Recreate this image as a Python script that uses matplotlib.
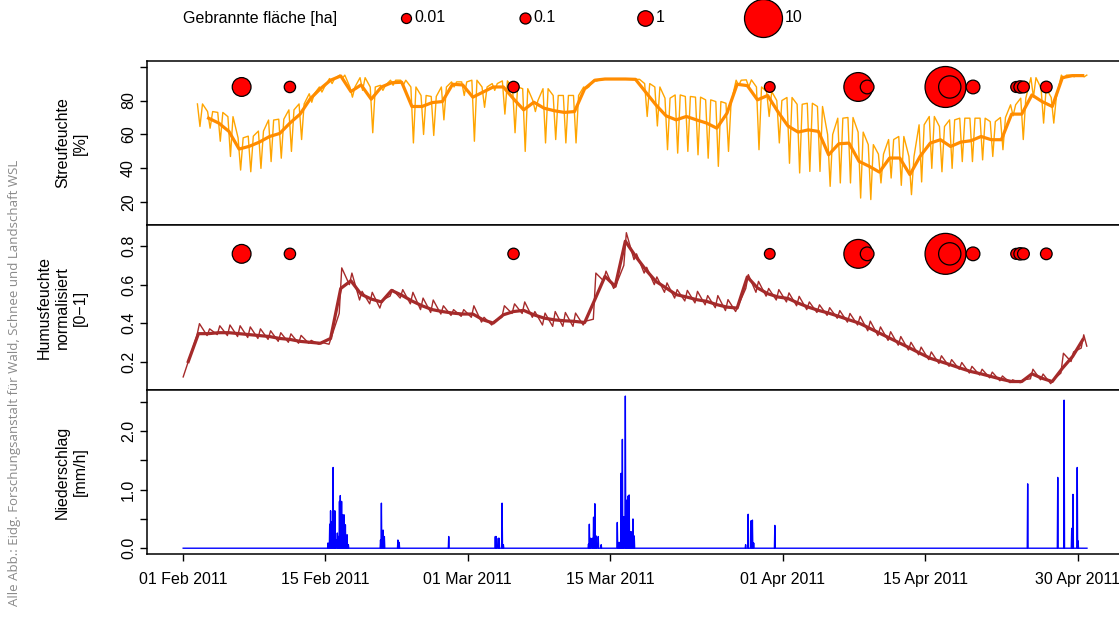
import numpy as np
import pandas as pd
import matplotlib
matplotlib.use("Agg")
from matplotlib import pyplot as plt
import matplotlib.dates as mdates

plt.rcParams['font.family'] = ['Liberation Sans', 'DejaVu Sans']

# Startdatum der Messreihe
start = "2011-02-01"

# Streufeuchte [%] - Tagesmittel (dicke Linie), 3. Feb .. 30. Apr
litter_mean = [69.6, 66.7, 61.8, 51.4, 53, 55.5, 58.8, 60.6, 66.7, 72,
               81, 87, 92, 94.5, 85.3, 89.2, 80.8, 88, 90.5, 90.8,
               76.5, 76.5, 78.8, 79.4, 89.6, 89.2, 82, 85, 88, 88,
               81, 74.5, 79, 75.5, 74, 73, 73.5, 87, 92, 92.7,
               92.7, 92.7, 92.5, 85, 77.5, 71, 68.6, 70.6, 68.6, 66.7,
               63.7, 72.5, 89.6, 88.8, 80.4, 83, 73.5, 65, 61.4, 62.7,
               61.8, 48, 54.5, 54.9, 44.1, 41.2, 37.8, 46.1, 46.1, 36.3,
               47.1, 54.9, 56.9, 52.9, 55.5, 56.3, 58.8, 56.9, 56.9, 72,
               72, 83.3, 79.4, 76.5, 93.5, 94.7, 94.7]

# Streufeuchte [%] - Tageshoch / Tagestief (duenne Linie), 2. Feb .. 30. Apr
litter_hi = [78, 73.5, 73, 70.5, 58, 59, 62, 68.5, 69, 74.5,
             78, 84, 88, 93, 95, 88, 93.5, 88, 89, 92,
             92, 88, 83, 82.4, 88, 91, 91, 92, 88, 90,
             91.6, 88, 87, 80, 87, 83, 83, 83, 88, 92,
             92.5, 92.5, 92.5, 92.5, 90, 88, 81.4, 83.3, 82.4, 82,
             80.4, 79.4, 78.4, 92, 92.2, 88, 85.3, 80, 81.8, 77.8,
             78.4, 76.5, 60, 69.6, 70, 61.4, 54, 48.4, 57, 58.8,
             47, 65.7, 70.6, 64.7, 68.6, 69.6, 69.6, 69.6, 67.6, 70,
             77.5, 81.4, 93.5, 87.3, 81.8, 95, 95, 95]
litter_lo = [64.7, 63.7, 56, 47, 39, 38, 40, 44, 46, 50,
             57, 79, 85, 90, 93, 82, 86, 61, 86, 89,
             89, 55, 60, 59.4, 68.6, 88, 83, 56, 76, 86,
             72, 61, 50, 73.5, 55, 57, 55, 55, 87, 91.5,
             92.5, 92.5, 92.5, 92.5, 70.6, 65, 51, 49, 50, 48,
             46, 41.2, 50, 89, 88, 51, 70.6, 55, 43, 37.3,
             38.2, 38.2, 29.4, 31.4, 31.4, 22.5, 21.6, 31.4, 34.3, 30,
             24.5, 32, 40, 38, 40, 44, 44, 45, 47, 51,
             71, 57, 82, 66.7, 66.7, 93, 94, 94]

# Humusfeuchte normalisiert - Tagesmittel, 1. Feb .. 30. Apr
hum_mean = [0.20, 0.345, 0.345, 0.35, 0.35, 0.345, 0.34, 0.335, 0.33, 0.32,
            0.315, 0.305, 0.30, 0.295, 0.32, 0.58, 0.62, 0.55, 0.525, 0.51,
            0.57, 0.545, 0.515, 0.49, 0.47, 0.46, 0.452, 0.447, 0.447, 0.417,
            0.40, 0.443, 0.46, 0.466, 0.443, 0.426, 0.417, 0.412, 0.409, 0.403,
            0.522, 0.643, 0.591, 0.826, 0.748, 0.678, 0.617, 0.583, 0.548, 0.536,
            0.522, 0.513, 0.496, 0.483, 0.478, 0.64, 0.583, 0.553, 0.536, 0.528,
            0.504, 0.483, 0.466, 0.452, 0.435, 0.417, 0.40, 0.374, 0.348, 0.322,
            0.296, 0.27, 0.243, 0.217, 0.20, 0.183, 0.165, 0.148, 0.136, 0.122,
            0.108, 0.096, 0.096, 0.136, 0.113, 0.096, 0.165, 0.226, 0.313]

# Humusfeuchte - Tagesspitze / Tagestief (duenne Linie), 2. Feb .. 30. Apr
hum_peak = [0.397, 0.37, 0.386, 0.39, 0.386, 0.38, 0.37, 0.36, 0.35, 0.344,
            0.336, 0.31, 0.30, 0.33, 0.687, 0.66, 0.565, 0.56, 0.52, 0.574,
            0.574, 0.56, 0.53, 0.52, 0.49, 0.47, 0.47, 0.49, 0.43, 0.41,
            0.49, 0.50, 0.51, 0.46, 0.452, 0.46, 0.455, 0.452, 0.41, 0.66,
            0.67, 0.60, 0.87, 0.76, 0.69, 0.64, 0.609, 0.574, 0.57, 0.565,
            0.543, 0.543, 0.522, 0.49, 0.652, 0.617, 0.58, 0.574, 0.557, 0.539,
            0.51, 0.495, 0.48, 0.465, 0.45, 0.435, 0.41, 0.38, 0.355, 0.33,
            0.30, 0.275, 0.25, 0.23, 0.21, 0.195, 0.175, 0.16, 0.145, 0.125,
            0.105, 0.105, 0.16, 0.135, 0.105, 0.243, 0.25, 0.339]
hum_low = [0.335, 0.335, 0.34, 0.335, 0.33, 0.325, 0.32, 0.315, 0.305, 0.30,
           0.295, 0.295, 0.29, 0.29, 0.45, 0.60, 0.52, 0.50, 0.478, 0.54,
           0.53, 0.50, 0.47, 0.455, 0.447, 0.44, 0.435, 0.43, 0.405, 0.39,
           0.43, 0.45, 0.45, 0.43, 0.39, 0.383, 0.383, 0.383, 0.39, 0.42,
           0.62, 0.58, 0.70, 0.73, 0.66, 0.60, 0.56, 0.53, 0.515, 0.505,
           0.495, 0.48, 0.465, 0.46, 0.58, 0.56, 0.54, 0.52, 0.51, 0.49,
           0.47, 0.455, 0.44, 0.425, 0.405, 0.39, 0.36, 0.335, 0.31, 0.285,
           0.26, 0.235, 0.21, 0.19, 0.175, 0.16, 0.14, 0.13, 0.115, 0.10,
           0.09, 0.09, 0.11, 0.105, 0.085, 0.14, 0.20, 0.27]
hum_first = 0.12
hum_last = 0.28

# Niederschlag [mm/h], nur Stunden mit Regen
rain_time = ["2011-02-15 06:00", "2011-02-15 10:00", "2011-02-15 12:00", "2011-02-15 14:00",
             "2011-02-15 18:00", "2011-02-15 22:00", "2011-02-16 00:00", "2011-02-16 04:00",
             "2011-02-16 07:00", "2011-02-16 09:00", "2011-02-16 11:00", "2011-02-16 14:00",
             "2011-02-16 17:00", "2011-02-16 20:00", "2011-02-16 23:00", "2011-02-17 03:00",
             "2011-02-17 06:00", "2011-02-20 10:00", "2011-02-20 12:00", "2011-02-20 16:00",
             "2011-02-20 19:00", "2011-02-22 03:00", "2011-02-22 06:00", "2011-02-27 03:00",
             "2011-03-03 17:00", "2011-03-03 19:00", "2011-03-04 00:00", "2011-03-04 02:00",
             "2011-03-04 09:00", "2011-03-04 12:00", "2011-03-12 21:00", "2011-03-12 23:00",
             "2011-03-13 02:00", "2011-03-13 06:00", "2011-03-13 09:00", "2011-03-13 12:00",
             "2011-03-13 15:00", "2011-03-13 20:00", "2011-03-14 03:00", "2011-03-15 17:00",
             "2011-03-15 21:00", "2011-03-16 00:00", "2011-03-16 02:00", "2011-03-16 05:00",
             "2011-03-16 08:00", "2011-03-16 12:00", "2011-03-16 15:00", "2011-03-16 18:00",
             "2011-03-16 21:00", "2011-03-17 00:00", "2011-03-17 03:00", "2011-03-17 06:00",
             "2011-03-17 09:00", "2011-03-28 08:00", "2011-03-28 14:00", "2011-03-28 21:00",
             "2011-03-29 00:00", "2011-03-29 03:00", "2011-03-31 05:00", "2011-04-25 02:00",
             "2011-04-28 01:00", "2011-04-28 16:00", "2011-04-29 10:00", "2011-04-29 13:00",
             "2011-04-29 23:00", "2011-04-30 01:00"]
rain_mm = [0.09, 0.41, 0.64, 0.45, 1.38, 0.64, 0.15, 0.26,
           0.2, 0.8, 0.9, 0.8, 0.57, 0.57, 0.4, 0.23,
           0.06, 0.14, 0.77, 0.31, 0.2, 0.14, 0.1, 0.2,
           0.2, 0.2, 0.17, 0.17, 0.77, 0.06, 0.07, 0.41,
           0.17, 0.17, 0.53, 0.76, 0.21, 0.2, 0.06, 0.44,
           0.1, 0.1, 1.28, 1.86, 0.54, 2.6, 0.82, 0.89,
           0.91, 0.28, 0.28, 0.5, 0.21, 0.06, 0.58, 0.47,
           0.48, 0.09, 0.39, 1.1, 1.21, 2.53, 0.34, 0.92,
           1.38, 0.125]
rain_end = "2011-04-30 22:00"

# Waldbraende: Zeitpunkt und gebrannte Flaeche [ha]
fire_time = ["2011-02-06 18:00", "2011-02-11 12:00", "2011-03-05 12:00", "2011-03-30 17:00",
             "2011-04-08 10:00", "2011-04-09 07:00", "2011-04-17 00:00", "2011-04-17 10:00",
             "2011-04-19 17:00", "2011-04-23 23:00", "2011-04-24 08:00", "2011-04-24 16:00",
             "2011-04-26 22:00"]
fire_ha = [1.4, 0.12, 0.12, 0.05, 3.9, 0.4, 11.0, 2.0, 0.4, 0.1, 0.2, 0.15, 0.14]

legend_ha = [0.01, 0.1, 1, 10]
legend_labels = ["0.01", "0.1", "1", "10"]

tick_dates = ["2011-02-01", "2011-02-15", "2011-03-01", "2011-03-15",
              "2011-04-01", "2011-04-15", "2011-04-30"]
tick_labels = ["01 Feb 2011", "15 Feb 2011", "01 Mar 2011", "15 Mar 2011",
               "01 Apr 2011", "15 Apr 2011", "30 Apr 2011"]

FS = 11.5


def bubble_px(ha):
    # Kreisdurchmesser in Pixel je nach Flaeche (log-Skala)
    return np.interp(np.log10(ha), [-2, -1, 0, 1, 2], [10, 11, 15.5, 38, 109])


def px2pt2(d):
    return (np.asarray(d) * 0.72) ** 2


t0 = mdates.date2num(pd.Timestamp(start))

# Zeitachsen aufbauen
t_litter_mean = t0 + np.arange(2, 89) + 0.5
days = np.arange(1, 89)
t_litter = t0 + np.column_stack([days + 0.4, days + 0.65, days + 0.9]).ravel()
y_litter = np.column_stack([litter_hi, litter_lo, litter_hi]).ravel()

t_hum_mean = t0 + np.arange(0, 89) + 0.5
t_hum = t0 + np.concatenate([[0], np.column_stack([days + 0.35, days + 0.6]).ravel(), [88.9]])
y_hum = np.concatenate([[hum_first], np.column_stack([hum_low, hum_peak]).ravel(), [hum_last]])

rain_idx = pd.date_range(start, rain_end, freq="h")
rain = pd.Series(0.0, index=rain_idx)
rain[pd.to_datetime(rain_time)] = rain_mm
t_rain = mdates.date2num(rain.index)

t_fire = mdates.date2num(pd.to_datetime(fire_time))
s_fire = px2pt2(bubble_px(np.array(fire_ha)))

# Abbildung
W, H = 1119, 619
fig = plt.figure(figsize=(W / 100, H / 100), dpi=100)

left = 147 / W
width = (1124 - 147) / W
ax1 = fig.add_axes([left, 1 - 225 / H, width, (225 - 60.7) / H])
ax2 = fig.add_axes([left, 1 - 390 / H, width, (390 - 225) / H])
ax3 = fig.add_axes([left, 1 - 554.3 / H, width, (554.3 - 390) / H])

ax1.plot(t_litter, y_litter, color="#FFA500", lw=1.0)
ax1.plot(t_litter_mean, litter_mean, color="#FF8C00", lw=2.3)
ax1.scatter(t_fire, np.full(len(t_fire), 88), s=s_fire, c="red",
            edgecolors="black", linewidths=0.9, zorder=5)
ax1.set_ylim(6.6, 103.5)
ax1.set_yticks([20, 40, 60, 80, 100])
ax1.set_yticklabels(["20", "40", "60", "80", ""])

ax2.plot(t_hum, y_hum, color="#A52A2A", lw=1.0)
ax2.plot(t_hum_mean, hum_mean, color="#A52A2A", lw=2.3)
ax2.scatter(t_fire, np.full(len(t_fire), 0.76), s=s_fire, c="red",
            edgecolors="black", linewidths=0.9, zorder=5)
ax2.set_ylim(0.052, 0.91)
ax2.set_yticks([0.2, 0.4, 0.6, 0.8])
ax2.set_yticklabels(["0.2", "0.4", "0.6", "0.8"])

ax3.plot(t_rain, rain.values, color="#0000FF", lw=1.0)
ax3.set_ylim(-0.104, 2.704)
ax3.set_yticks([0, 0.5, 1, 1.5, 2, 2.5])
ax3.set_yticklabels(["0.0", "", "1.0", "", "2.0", ""])

for ax in (ax1, ax2, ax3):
    ax.set_xlim(t0 - 3.56, t0 + 92.56)
    for sp in ax.spines.values():
        sp.set_linewidth(1.1)
    ax.tick_params(axis="y", direction="out", length=5, width=1, labelsize=FS, pad=3)
    for lab in ax.get_yticklabels():
        lab.set_rotation(90)
        lab.set_va("center")

for ax in (ax1, ax2):
    ax.set_xticks([])

ax3.set_xticks(mdates.date2num(pd.to_datetime(tick_dates)))
ax3.set_xticklabels(tick_labels)
ax3.tick_params(axis="x", direction="out", length=5, width=1, labelsize=FS, pad=8)

# Ueberlagerung in Pixelkoordinaten fuer Legende und Beschriftungen
ov = fig.add_axes([0, 0, 1, 1], zorder=-1)
ov.set_xlim(0, W)
ov.set_ylim(H, 0)
ov.axis("off")

ov.text(183, 18, "Gebrannte fläche [ha]", fontsize=FS, va="center", ha="left")
leg_x = [406, 525, 645, 763]
for x, ha, lab in zip(leg_x, legend_ha, legend_labels):
    d = bubble_px(ha)
    ov.scatter([x], [18], s=px2pt2(d), c="red", edgecolors="black", linewidths=0.9)
    ov.text(x + d / 2 + 3, 18, lab, fontsize=FS, va="center", ha="left")

ylabels = [("Streufeuchte\n[%]", 142.9),
           ("Humusfeuchte\nnormalisiert\n[0\u22121]", 307.5),
           ("Niederschlag\n[mm/h]", 472)]
for txt, yc in ylabels:
    ov.text(88, yc, txt, fontsize=FS, rotation=90, ha="right", va="center",
            multialignment="center", linespacing=1.25)

fig.text(15 / W, 1 - 606 / H, "Alle Abb.: Eidg. Forschungsanstalt für Wald, Schnee und Landschaft WSL",
         family="Open Sans", fontsize=9.5, color="#8a8a8a", rotation=90,
         ha="center", va="bottom")

fig.savefig("out.png", dpi=100)
